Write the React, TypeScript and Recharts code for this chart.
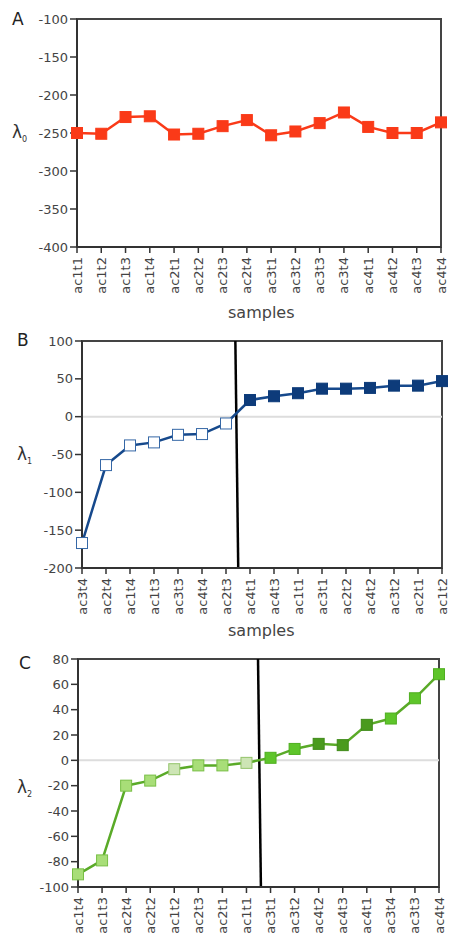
import React from 'react';
import { LineChart, Line, XAxis, YAxis, ReferenceLine, ReferenceArea } from 'recharts';

// panel A: samples in run order
const samplesA = ['ac1t1', 'ac1t2', 'ac1t3', 'ac1t4', 'ac2t1', 'ac2t2', 'ac2t3', 'ac2t4', 'ac3t1', 'ac3t2', 'ac3t3', 'ac3t4', 'ac4t1', 'ac4t2', 'ac4t3', 'ac4t4'];
const lambda0 = [-250, -251, -229, -228, -252, -251, -241, -233, -253, -248, -237, -223, -242, -250, -250, -236];
const ticksA = [-400, -350, -300, -250, -200, -150, -100];

// panel B: sorted by lambda1
const samplesB = ['ac3t4', 'ac2t4', 'ac1t4', 'ac1t3', 'ac3t3', 'ac4t4', 'ac2t3', 'ac4t1', 'ac4t3', 'ac1t1', 'ac3t1', 'ac2t2', 'ac4t2', 'ac3t2', 'ac2t1', 'ac1t2'];
const lambda1 = [-167, -64, -38, -34, -24, -23, -9, 22, 27, 31, 37, 37, 38, 41, 41, 47];
const ticksB = [-200, -150, -100, -50, 0, 50, 100];
const splitB = [6.39, 6.51];

// panel C: sorted by lambda2
const samplesC = ['ac1t4', 'ac1t3', 'ac2t4', 'ac2t2', 'ac1t2', 'ac2t3', 'ac2t1', 'ac1t1', 'ac3t1', 'ac3t2', 'ac4t2', 'ac4t3', 'ac4t1', 'ac3t4', 'ac3t3', 'ac4t4'];
const lambda2 = [-90, -79, -20, -16, -7, -4, -4, -2, 2, 9, 13, 12, 28, 33, 49, 68];
const ticksC = [-100, -80, -60, -40, -20, 0, 20, 40, 60, 80];
const splitC = [7.48, 7.6];

const FONT = '"DejaVu Sans", sans-serif';
const xTicks = samplesA.map((_, i) => i);

// marker colours for C
const PALE = ['#cde5b5', '#93c46a'];
const LIGHT = ['#a8de78', '#78bf45'];
const BRIGHT = ['#5ec52a', '#4fae20'];
const DARK = ['#4a9a1e', '#3f8a18'];
const markersC = [LIGHT, LIGHT, LIGHT, LIGHT, PALE, LIGHT, LIGHT, PALE, BRIGHT, BRIGHT, DARK, DARK, DARK, BRIGHT, BRIGHT, BRIGHT];

const RotTick = (props: any) => {
  const { x, y, payload, labels } = props;
  return (
    <text x={x} y={y + 2} transform={`rotate(-90 ${x} ${y + 2})`} textAnchor="end" dominantBaseline="central"
      fontSize={13} fontFamily={FONT} fill="#444">
      {labels[payload.value]}
    </text>
  );
};

type PanelProps = {
  top: number;
  height: number;
  marginTop: number;
  marginBottom: number;
  xHeight: number;
  yWidth: number;
  right: number;
  labels: string[];
  values: number[];
  ticks: number[];
  lineColor: string;
  dotStyle: (i: number) => { fill: string; stroke: string };
  split?: number[];
  zeroLine?: boolean;
};

const Panel = (p: PanelProps) => {
  const data = p.values.map((v, i) => ({ idx: i, v }));
  const lo = p.ticks[0];
  const hi = p.ticks[p.ticks.length - 1];
  const dot = (d: any) => {
    const s = p.dotStyle(d.index);
    return <rect key={d.index} x={d.cx - 5.5} y={d.cy - 5.5} width={11} height={11} fill={s.fill} stroke={s.stroke} strokeWidth={1} />;
  };
  return (
    <div style={{ position: 'absolute', left: 0, top: p.top }}>
      <LineChart width={451} height={p.height} data={data}
        margin={{ top: p.marginTop, right: p.right, bottom: p.marginBottom, left: 0 }}>
        <XAxis dataKey="idx" type="number" domain={[0, 15]} ticks={xTicks} interval={0} height={p.xHeight}
          tick={(t: any) => <RotTick {...t} labels={p.labels} />}
          axisLine={{ stroke: '#333', strokeWidth: 2 }} tickLine={{ stroke: '#333', strokeWidth: 1.5 }} tickSize={6} />
        <YAxis domain={[lo, hi]} ticks={p.ticks} interval={0} width={p.yWidth}
          tick={{ fontSize: 13, fill: '#444', fontFamily: FONT }}
          axisLine={{ stroke: '#333', strokeWidth: 2 }} tickLine={{ stroke: '#333', strokeWidth: 1.5 }} tickSize={7} tickMargin={2} />
        <ReferenceArea x1={0} x2={15} y1={lo} y2={hi} fill="none" stroke="#444" strokeWidth={2} />
        {p.zeroLine && <ReferenceLine y={0} stroke="#dddddd" strokeWidth={2} />}
        {p.split && (
          <ReferenceLine segment={[{ x: p.split[0], y: hi }, { x: p.split[1], y: lo }]} stroke="#000" strokeWidth={2.5} />
        )}
        <Line dataKey="v" stroke={p.lineColor} strokeWidth={2.5} dot={dot} activeDot={false} isAnimationActive={false} />
      </LineChart>
    </div>
  );
};

const txt: React.CSSProperties = { position: 'absolute', fontFamily: FONT, color: '#222', whiteSpace: 'nowrap' };

const Lambda = ({ left, top, sub }: { left: number; top: number; sub: string }) => (
  <div style={{ ...txt, left, top, fontSize: 17, lineHeight: '20px', color: '#333' }}>
    λ<span style={{ fontSize: 8, position: 'relative', top: 4 }}>{sub}</span>
  </div>
);

export default function App() {
  return (
    <div style={{ position: 'absolute', left: 0, top: 0, width: 451, height: 933, background: '#fff', overflow: 'hidden' }}>
      <Panel top={0} height={315} marginTop={19} marginBottom={8} xHeight={60} yWidth={77} right={10}
        labels={samplesA} values={lambda0} ticks={ticksA} lineColor="#fa3a18"
        dotStyle={() => ({ fill: '#fa3a18', stroke: '#fa3a18' })} />
      <Panel top={320} height={330} marginTop={21} marginBottom={22} xHeight={60} yWidth={82} right={9}
        labels={samplesB} values={lambda1} ticks={ticksB} lineColor="#16498c" zeroLine split={splitB}
        dotStyle={(i) => (i < 7 ? { fill: '#ffffff', stroke: '#3567a6' } : { fill: '#0d3b7a', stroke: '#0d3b7a' })} />
      <Panel top={640} height={293} marginTop={19} marginBottom={0} xHeight={46} yWidth={78} right={12}
        labels={samplesC} values={lambda2} ticks={ticksC} lineColor="#5aaa28" zeroLine split={splitC}
        dotStyle={(i) => ({ fill: markersC[i][0], stroke: markersC[i][1] })} />

      <div style={{ ...txt, left: 12, top: 9, fontSize: 17, lineHeight: '20px' }}>A</div>
      <div style={{ ...txt, left: 17, top: 330, fontSize: 17, lineHeight: '20px' }}>B</div>
      <div style={{ ...txt, left: 19, top: 653, fontSize: 17, lineHeight: '20px' }}>C</div>

      <Lambda left={12} top={122} sub="0" />
      <Lambda left={17} top={444} sub="1" />
      <Lambda left={17} top={777} sub="2" />

      <div style={{ ...txt, left: 228, top: 303, fontSize: 16, lineHeight: '20px', color: '#444' }}>samples</div>
      <div style={{ ...txt, left: 228, top: 621, fontSize: 16, lineHeight: '20px', color: '#444' }}>samples</div>
    </div>
  );
}
